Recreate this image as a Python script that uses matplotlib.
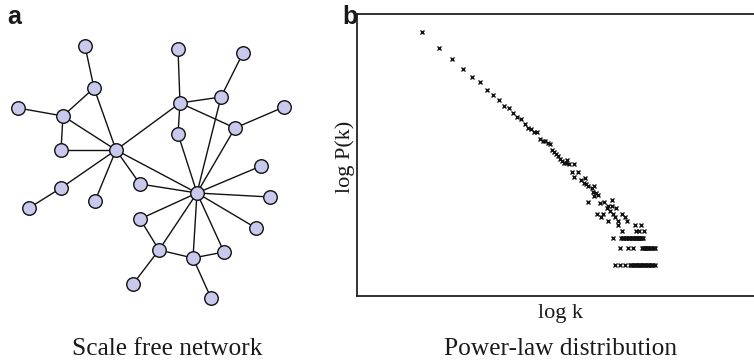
import numpy as np
import matplotlib.pyplot as plt

# --- network layout (node positions in drawing units, y grows downward) ---
node_x = [85, 94, 18, 63, 61, 116, 178, 243, 180, 221, 284, 178, 235, 261,
          61, 29, 95, 140, 197, 270, 256, 140, 159, 193, 224, 133, 211]
node_y = [46, 88, 108, 116, 150, 150, 49, 53, 103, 97, 107, 134, 128, 166,
          188, 208, 201, 184, 193, 197, 228, 219, 250, 258, 252, 284, 298]
edges = [(0, 1), (1, 3), (1, 5), (2, 3), (3, 4), (3, 5), (4, 5),
         (5, 8), (5, 14), (14, 15), (5, 16), (5, 17), (5, 18),
         (6, 8), (8, 9), (9, 7), (8, 11), (8, 12), (12, 10),
         (11, 18), (9, 18), (12, 18), (13, 18), (17, 18),
         (18, 19), (18, 20), (18, 21), (18, 22), (18, 23), (18, 24),
         (21, 22), (22, 23), (23, 24), (22, 25), (23, 26)]

# --- degree distribution: degree k and number of nodes with that degree ---
degree = [3, 4, 5, 6, 7, 8, 9, 10, 11, 12, 13, 14, 15, 16, 17, 18, 19, 20,
          21, 22, 23, 24, 25, 26, 27, 28, 29, 30, 31, 32, 33, 34, 35, 36,
          39, 38, 39, 42, 44, 46, 47, 48, 50, 53, 55, 54, 57, 55, 59, 50,
          61, 65, 70, 74, 75, 80, 68, 72, 58, 62, 64, 76, 78, 70, 83, 88,
          93, 96,
          83, 109, 121,
          88, 112, 118, 128,
          76, 87, 89, 90, 92, 94, 95, 97, 99, 100, 102, 104, 106, 107, 109,
          111, 113, 115, 116, 118, 120, 122, 124, 126,
          85, 97, 106, 124, 126, 128, 131, 133, 135, 138, 140, 143, 145,
          148, 151, 154,
          79, 85, 93, 101, 103, 105, 108, 110, 112, 115, 117, 120, 122, 125,
          128, 131, 134, 137, 140, 143, 146, 150, 154]
count = [12080, 6490, 4160, 2710, 2010, 1600, 1190, 970, 775, 623, 568, 464,
         400, 364, 294, 256, 240, 215, 213, 160, 148, 150, 136, 133, 104, 96,
         87, 81, 72, 68, 61, 62, 70, 58, 58, 43, 35, 43, 31, 28, 33, 26, 24,
         22, 24, 19, 18, 16, 17, 13, 12, 13, 11, 14, 11, 10, 10, 9, 8, 7, 8,
         8, 7, 6, 6, 8, 7, 6,
         5, 5, 5,
         4, 4, 4, 4] + [3] * 24 + [2] * 16 + [1] * 23

W, H = 754, 361
fig = plt.figure(figsize=(W / 100, H / 100), dpi=100)


def fx(px):
    return px / W


def fy(py):
    return 1 - py / H


# left panel: scale free network
ax_net = fig.add_axes([0, 0, 340 / W, 1])
ax_net.set_xlim(0, 340)
ax_net.set_ylim(H, 0)
ax_net.axis('off')
for a, b in edges:
    ax_net.plot([node_x[a], node_x[b]], [node_y[a], node_y[b]],
                color='#111111', lw=1.0, zorder=1)
ax_net.scatter(node_x, node_y, s=95, color='#c9c9ee', edgecolor='#111111',
               linewidth=1.0, zorder=2)

# right panel: power-law distribution
ax_pl = fig.add_axes([fx(357), 1 - 296 / H, 406 / W, 282 / H])
ax_pl.plot(degree, count, 'x', color='#111111', markersize=3.2,
           markeredgewidth=1.0)
ax_pl.set_xscale('log')
ax_pl.set_yscale('log')
ax_pl.set_xlim(0.993, 960)
ax_pl.set_ylim(0.2858, 25320)
ax_pl.set_xticks([])
ax_pl.set_yticks([])
ax_pl.minorticks_off()
ax_pl.tick_params(which='both', length=0)
for side in ['left', 'top', 'bottom']:
    ax_pl.spines[side].set_linewidth(1.3)
    ax_pl.spines[side].set_color('#222222')
ax_pl.spines['right'].set_visible(False)

serif = 'Liberation Serif'
fig.text(fx(560), fy(318), 'log k', family=serif, fontsize=16,
         ha='center', va='baseline', color='#1a1a1a')
fig.text(fx(345), fy(157), 'log P(k)', family=serif, fontsize=16,
         rotation=90, ha='center', va='center', color='#1a1a1a')
fig.text(fx(167), fy(355), 'Scale free network', family=serif, fontsize=18.3,
         ha='center', va='baseline', color='#1a1a1a')
fig.text(fx(560), fy(355), 'Power-law distribution', family=serif,
         fontsize=18.3, ha='center', va='baseline', color='#1a1a1a')

fig.text(fx(7), fy(24), 'a', family='Liberation Sans', fontweight='bold',
         fontsize=18, ha='left', va='baseline', color='#1a1a1a')
fig.text(fx(342), fy(24), 'b', family='Liberation Sans', fontweight='bold',
         fontsize=18, ha='left', va='baseline', color='#1a1a1a')

fig.savefig('out.png', dpi=100)
